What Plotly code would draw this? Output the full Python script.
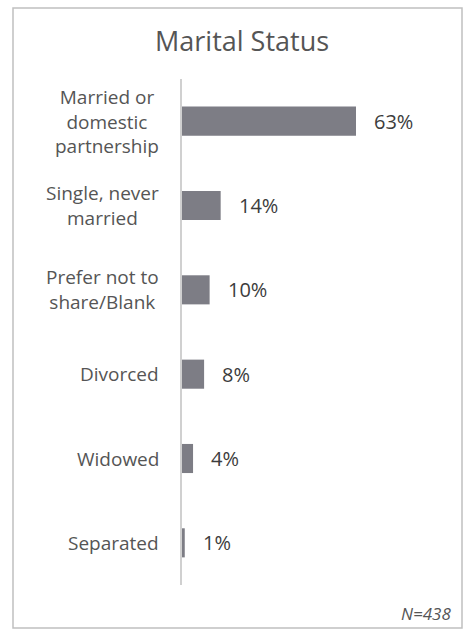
import plotly.graph_objects as go

categories = ["Married or<br>domestic<br>partnership", "Single, never<br>married",
              "Prefer not to<br>share/Blank", "Divorced", "Widowed", "Separated"]
values = [63, 14, 10, 8, 4, 1]
value_labels = ["63%", "14%", "10%", "8%", "4%", "1%"]
title_text = "Marital Status"
note_text = "N=438"

W, H = 463, 631
L, R, T, B = 182, 18, 79, 46
pw, ph = W - L - R, H - T - B

def px_x(px):
    return (px - L) / pw

def px_y(py):
    return (H - B - py) / ph

TEXT = "#555555"
FONT = "Open Sans"

fig = go.Figure(go.Bar(
    y=categories, x=values, orientation="h",
    marker=dict(color="#7d7d85", line=dict(width=0)),
    hoverinfo="skip",
))

ann = []
for c, v, t in zip(categories, values, value_labels):
    ann.append(dict(x=v, y=c, xref="x", yref="y", text=t, showarrow=False,
                    xanchor="left", yanchor="middle", xshift=16,
                    font=dict(family=FONT, size=20, color="#3c3c3c")))
    ann.append(dict(x=0, y=c, xref="paper", yref="y", text=c, showarrow=False,
                    xanchor="right", yanchor="middle", xshift=-21, align="center",
                    font=dict(family=FONT, size=19, color=TEXT)))

ann.append(dict(x=px_x(242), y=px_y(41), xref="paper", yref="paper", text=title_text,
                showarrow=False, xanchor="center", yanchor="middle",
                font=dict(family=FONT, size=27, color=TEXT)))
ann.append(dict(x=px_x(453), y=px_y(613), xref="paper", yref="paper",
                text="<i>" + note_text + "</i>", showarrow=False,
                xanchor="right", yanchor="middle",
                font=dict(family=FONT, size=17, color=TEXT)))

fig.update_layout(
    width=W, height=H,
    margin=dict(l=L, r=R, t=T, b=B),
    paper_bgcolor="white", plot_bgcolor="white",
    showlegend=False,
    bargap=0.655,
    annotations=ann,
    shapes=[dict(type="rect", xref="paper", yref="paper",
                 x0=px_x(13), x1=px_x(462), y0=px_y(628), y1=px_y(8),
                 line=dict(color="#c0c0c0", width=1.5), layer="below")],
    xaxis=dict(range=[0, pw / (174 / 63)], showgrid=False, zeroline=False,
               showticklabels=False, showline=False, fixedrange=True),
    yaxis=dict(autorange="reversed", showticklabels=False, showgrid=False,
               zeroline=False, showline=True, linecolor="#d0d0d0", linewidth=1.5,
               ticks=""),
)

fig.write_html("out.html")
